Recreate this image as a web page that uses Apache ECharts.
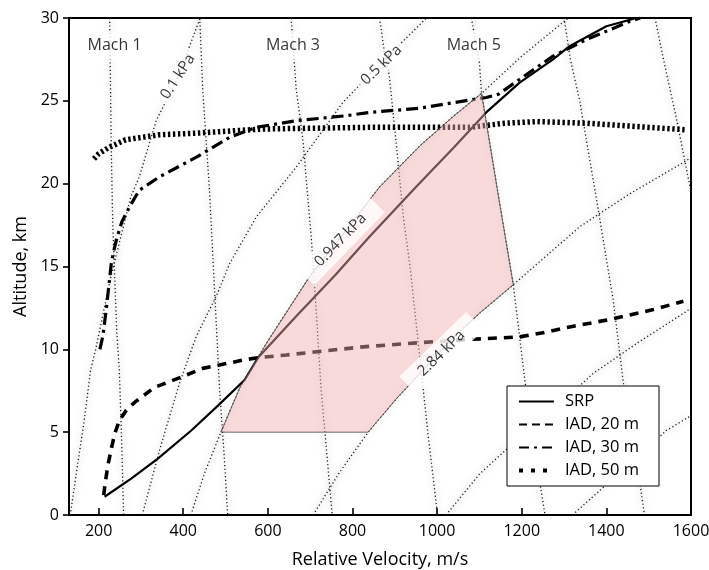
<!DOCTYPE html>
<html>
<head>
<meta charset="utf-8">
<script src="https://cdn.jsdelivr.net/npm/echarts@6/dist/echarts.min.js"></script>
<style>
html,body{margin:0;padding:0;background:#fff;}
#chart{width:709px;height:570px;}
</style>
</head>
<body>
<div id="chart"></div>
<script>
// ---- axis ticks ----
const xTicks = [200, 400, 600, 800, 1000, 1200, 1400, 1600];
const yTicks = [0, 5, 10, 15, 20, 25, 30];

// ---- trajectories: [velocity m/s, altitude km] ----
const srp = [[214,1.1],[277,2.2],[340,3.4],[419,5.1],[482,6.6],[545,8.15],[577,9.5],[667,12.0],[760,14.5],[840,16.8],[950,19.8],[1040,22.2],[1116,24.3],[1195,26.1],[1274,27.5],[1313,28.3],[1400,29.5],[1471,30]];
const iad20 = [[212,1.2],[216,2.0],[222,3.0],[230,4.0],[238,4.9],[249,5.7],[265,6.3],[285,6.8],[332,7.7],[398,8.35],[446,8.85],[485,9.05],[541,9.35],[577,9.5],[644,9.66],[825,10.15],[958,10.4],[1077,10.6],[1195,10.75],[1250,11.0],[1313,11.35],[1408,11.8],[1511,12.4],[1582,12.9]];
const iad30 = [[203,10.0],[210,10.8],[218,12.4],[224,13.8],[230,15.2],[238,16.2],[244,16.8],[255,17.7],[273,18.6],[296,19.6],[343,20.4],[431,21.6],[510,22.8],[573,23.4],[667,23.8],[785,24.1],[840,24.3],[958,24.55],[1077,25.05],[1116,25.2],[1145,25.4],[1195,26.3],[1274,27.7],[1353,28.7],[1456,29.8],[1480,30]];
const iad50 = [[189,21.5],[200,21.8],[225,22.2],[264,22.65],[343,22.95],[431,23.05],[588,23.3],[840,23.4],[1077,23.4],[1160,23.65],[1235,23.75],[1353,23.65],[1471,23.45],[1590,23.25]];

// ---- Mach lines ----
const mach1 = [[226,30],[228,26],[230,22],[233,18],[237,15],[243,11],[249,8.7],[255,4],[259,0]];
const mach2 = [[439,30],[446,25.7],[462,19.6],[474,13.6],[486,7.5],[497,3.5],[505,0]];
const mach3 = [[655,30],[667,25.7],[683,22.6],[703,16.6],[715,12],[726,7.5],[740,3.5],[752,0]];
const mach4 = [[864,30],[875,28],[887,26.5],[905,22],[920,18],[936,15],[957,10],[978,5],[1001,0]];
const mach5 = [[1081,30],[1100,27.3],[1105,25.45],[1142,19.7],[1180,13.9],[1208,8],[1230,4],[1255,0]];
const mach6 = [[1300,30],[1315,27.5],[1337,25],[1377,19],[1416,13],[1440,8],[1468,4],[1490,0]];
const mach7 = [[1515,30],[1535,27.5],[1565,24],[1600,19.5]];

// ---- dynamic pressure lines ----
const q01 = [[133,0],[150,3],[165,5.5],[181,8.75],[193,10],[230,14.5],[276,19.2],[296,20.4],[336,23.8],[387,26.4],[440,30]];
const q05 = [[303,0],[345,4],[391,7.95],[431,10.8],[478,13.2],[510,15.2],[573,18],[667,21],[777,24.9],[868,27.3],[975,30]];
const q0947 = [[418,0],[450,2.5],[489,5],[534,7.7],[600,10.5],[699,14.4],[770,16.7],[864,19.8],[960,22.3],[1040,24.1],[1105,25.45],[1200,27.7],[1310,30]];
const q284 = [[707,0],[770,2.6],[837,5],[903,7],[976,9],[1030,10.5],[1101,12.2],[1180,13.9],[1337,17.4],[1456,19.4],[1590,21.4],[1600,21.6]];
const q5 = [[1021,0],[1101,2.5],[1200,4.8],[1282,6.5],[1369,8.55],[1480,10.5],[1590,12.3],[1600,12.5]];
const q6 = [[1320,0],[1420,2.3],[1542,5.1],[1600,6]];

// ---- shaded corridor ----
const corridor = [[489,5],[534,7.7],[600,10.5],[699,14.4],[770,16.7],[864,19.8],[960,22.3],[1040,24.1],[1105,25.45],[1142,19.7],[1180,13.9],[1101,12.2],[1030,10.5],[976,9],[903,7],[837,5]];

// ---- annotations ----
const machNames = ['Mach 1', 'Mach 3', 'Mach 5'];
const machPos = [[237.6,28.33],[659.3,28.33],[1086.6,28.33]];
const qNames = ['0.1 kPa', '0.5 kPa', '0.947 kPa', '2.84 kPa'];
const qPos = [[387.4,26.46],[868.4,27.16],[772,16.6],[1010.3,9.76]];
const qAngle = [57, 44, 46, 44];
const qBox = [false, false, true, true];

const seriesNames = ['SRP', 'IAD, 20 m', 'IAD, 30 m', 'IAD, 50 m'];

const FONT = '"Open Sans", "Liberation Sans", sans-serif';

function bgLine(data) {
  return {
    type: 'line', data: data, symbol: 'none', silent: true, z: 1,
    animation: false,
    lineStyle: { color: '#1a1a1a', width: 1.3, type: [1.2, 2.5],
      shadowColor: 'rgba(0,0,0,0.5)', shadowBlur: 6 },
    emphasis: { disabled: true }
  };
}

const series = [];
[mach1, mach2, mach3, mach4, mach5, mach6, mach7, q01, q05, q0947, q284, q5, q6].forEach(d => series.push(bgLine(d)));

series.push({ name: seriesNames[0], type: 'line', data: srp, symbol: 'none', z: 2, color: '#000',
  lineStyle: { color: '#000', width: 2.2, type: 'solid' }, emphasis: { disabled: true } });
series.push({ name: seriesNames[1], type: 'line', data: iad20, symbol: 'none', z: 2, color: '#000',
  lineStyle: { color: '#000', width: 3.6, type: [9, 7], cap: 'butt' }, emphasis: { disabled: true } });
series.push({ name: seriesNames[2], type: 'line', data: iad30, symbol: 'none', z: 2, color: '#000',
  lineStyle: { color: '#000', width: 3.2, type: [12, 5, 3, 5], cap: 'butt' }, emphasis: { disabled: true } });
series.push({ name: seriesNames[3], type: 'line', data: iad50, symbol: 'none', z: 2, color: '#000',
  lineStyle: { color: '#000', width: 5.5, type: [2.4, 2.6], cap: 'butt' }, emphasis: { disabled: true } });

series.push({
  type: 'custom', z: 3, silent: true, data: corridor,
  encode: { x: 0, y: 1 },
  renderItem: function (params, api) {
    if (params.dataIndex !== 0) return null;
    const pts = corridor.map(p => api.coord(p));
    return { type: 'polygon', shape: { points: pts },
      style: { fill: 'rgba(240,172,172,0.45)', stroke: '#4a4a4a', lineWidth: 0.8 } };
  }
});

series.push({
  type: 'scatter', z: 5, silent: true, symbolSize: 0,
  data: machNames.map((n, i) => ({ name: n, value: machPos[i] })),
  label: { show: true, position: 'inside', formatter: '{b}', color: '#000',
    fontFamily: FONT, fontSize: 16, backgroundColor: '#fff', padding: [6, 8] }
});
series.push({
  type: 'scatter', z: 6, silent: true, symbolSize: 0,
  data: qNames.map((n, i) => ({ name: n, value: qPos[i],
    label: { rotate: qAngle[i], padding: qBox[i] ? [5, 17] : [1, 4] } })),
  label: { show: true, position: 'inside', formatter: '{b}', color: '#000',
    fontFamily: FONT, fontSize: 15, backgroundColor: '#fff' }
});

const chart = echarts.init(document.getElementById('chart'), null, { renderer: 'canvas' });
chart.setOption({
  animation: false,
  backgroundColor: '#fff',
  grid: { left: 69, right: 18, top: 18, bottom: 55, containLabel: false, outerBoundsMode: 'none',
    show: true, borderColor: '#000', borderWidth: 2, backgroundColor: 'transparent' },
  xAxis: {
    type: 'value', min: 130, max: 1600,
    name: 'Relative Velocity, m/s', nameLocation: 'middle', nameGap: 36,
    nameTextStyle: { fontFamily: FONT, fontSize: 18, color: '#000' },
    axisLine: { onZero: false, lineStyle: { color: '#000', width: 2 } },
    axisTick: { inside: true, length: 7, lineStyle: { color: '#000', width: 1.6 }, customValues: xTicks },
    axisLabel: { fontFamily: FONT, fontSize: 16, color: '#000', margin: 8, customValues: xTicks,
      formatter: v => String(v) },
    splitLine: { show: false }
  },
  yAxis: {
    type: 'value', min: 0, max: 30, interval: 5,
    name: 'Altitude, km', nameLocation: 'middle', nameGap: 31,
    nameTextStyle: { fontFamily: FONT, fontSize: 18, color: '#000' },
    axisLine: { onZero: false, lineStyle: { color: '#000', width: 2 } },
    axisTick: { inside: false, length: 6, lineStyle: { color: '#000', width: 1.6 }, customValues: yTicks },
    axisLabel: { fontFamily: FONT, fontSize: 16, color: '#000', margin: 10, customValues: yTicks,
      formatter: v => String(v) },
    splitLine: { show: false }
  },
  legend: {
    orient: 'vertical', left: 507, top: 386,
    backgroundColor: '#fff', borderColor: '#000', borderWidth: 1, borderRadius: 0,
    padding: [7, 20, 7, 10], itemGap: 6, itemWidth: 35, itemHeight: 14,
    textStyle: { fontFamily: FONT, fontSize: 16.5, color: '#000', padding: [0, 0, 0, 6] },
    itemStyle: { color: 'rgba(0,0,0,0)', borderWidth: 0, opacity: 0 },
    data: [
      { name: seriesNames[0], lineStyle: { color: '#000', width: 2, type: 'solid' } },
      { name: seriesNames[1], lineStyle: { color: '#000', width: 2.2, type: [8, 5] } },
      { name: seriesNames[2], lineStyle: { color: '#000', width: 2.2, type: [10, 5, 3, 5] } },
      { name: seriesNames[3], lineStyle: { color: '#000', width: 4, type: [4, 8], cap: 'butt' } }
    ],
    selectedMode: false
  },
  series: series
});
</script>
</body>
</html>
